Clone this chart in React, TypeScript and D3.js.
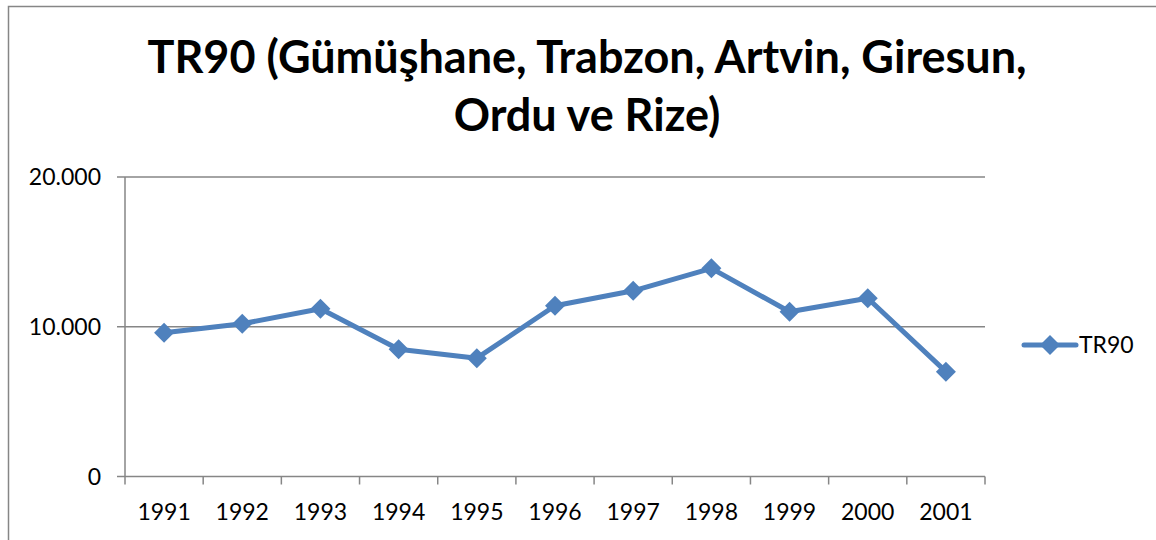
import React from "react";
import * as d3 from "d3";

const years = ["1991", "1992", "1993", "1994", "1995", "1996", "1997", "1998", "1999", "2000", "2001"];
const tr90 = [9600, 10200, 11200, 8500, 7900, 11400, 12400, 13900, 11000, 11900, 7000];
const yTicks = [0, 10000, 20000];
const seriesName = "TR90";
const titleLines = ["TR90 (Gümüşhane, Trabzon, Artvin, Giresun,", "Ordu ve Rize)"];

const W = 1156;
const H = 540;
const blue = "#4F81BD";
const gray = "#868686";
const font = "Lato, 'Open Sans', sans-serif";

// tr-TR style thousands: 10.000
const fmt = (v: number) => d3.format(",")(v).replace(/,/g, ".");

function Diamond({ x, y, r }: { x: number; y: number; r: number }) {
  return <path d={`M${x},${y - r}L${x + r},${y}L${x},${y + r}L${x - r},${y}Z`} fill={blue} />;
}

export default function App() {
  const plot = { left: 125, right: 985, top: 177, bottom: 476.5 };

  const x = d3.scaleBand().domain(years).range([plot.left, plot.right]);
  const y = d3.scaleLinear().domain([0, 20000]).range([plot.bottom, plot.top]);

  const line = d3
    .line<number>()
    .x((_, i) => x(years[i])! + x.bandwidth() / 2)
    .y((d) => y(d));

  const tickXs = [...years.map((c) => x(c)!), plot.right];

  return (
    <svg width={W} height={H} style={{ position: "absolute", left: 0, top: 0, background: "#fff" }}>
      <rect x={8.5} y={6.5} width={W + 10} height={H + 10} fill="#fff" stroke={gray} strokeWidth={1.5} />

      {titleLines.map((t, i) => (
        <text
          key={i}
          x={587}
          y={73 + i * 58}
          textAnchor="middle"
          fontFamily={font}
          fontWeight="bold"
          fontSize={45}
          fill="#000"
        >
          {t}
        </text>
      ))}

      {/* gridlines */}
      {yTicks.filter((t) => t > 0).map((t) => (
        <line key={t} x1={plot.left} x2={plot.right} y1={y(t)} y2={y(t)} stroke={gray} strokeWidth={1.5} />
      ))}

      {/* value axis */}
      <line x1={plot.left} x2={plot.left} y1={plot.top} y2={plot.bottom} stroke={gray} strokeWidth={1.5} />
      {yTicks.map((t) => (
        <g key={t}>
          <line x1={plot.left - 8} x2={plot.left} y1={y(t)} y2={y(t)} stroke={gray} strokeWidth={1.5} />
          <text
            x={101}
            y={y(t)}
            dy="0.35em"
            textAnchor="end"
            fontFamily={font}
            fontSize={23}
            fill="#000"
          >
            {fmt(t)}
          </text>
        </g>
      ))}

      {/* category axis */}
      <line x1={plot.left} x2={plot.right} y1={plot.bottom} y2={plot.bottom} stroke={gray} strokeWidth={1.5} />
      {tickXs.map((tx, i) => (
        <line key={i} x1={tx} x2={tx} y1={plot.bottom} y2={plot.bottom + 8} stroke={gray} strokeWidth={1.5} />
      ))}
      {years.map((c) => (
        <text
          key={c}
          x={x(c)! + x.bandwidth() / 2}
          y={520}
          textAnchor="middle"
          fontFamily={font}
          fontSize={23}
          fill="#000"
        >
          {c}
        </text>
      ))}

      {/* series */}
      <path d={line(tr90)!} fill="none" stroke={blue} strokeWidth={5} strokeLinejoin="round" strokeLinecap="round" />
      {tr90.map((v, i) => (
        <Diamond key={i} x={x(years[i])! + x.bandwidth() / 2} y={y(v)} r={10} />
      ))}

      {/* legend */}
      <line x1={1024} x2={1076} y1={345} y2={345} stroke={blue} strokeWidth={5} strokeLinecap="round" />
      <Diamond x={1050} y={345} r={10} />
      <text x={1079} y={345} dy="0.35em" fontFamily={font} fontSize={23} fill="#000">
        {seriesName}
      </text>
    </svg>
  );
}
